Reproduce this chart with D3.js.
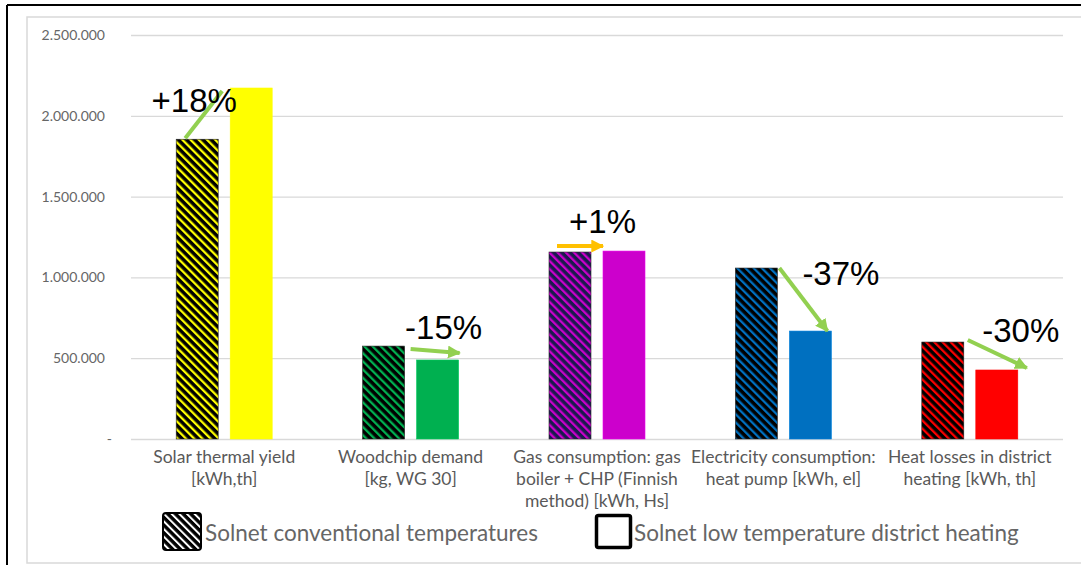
<!DOCTYPE html>
<html>
<head>
<meta charset="utf-8">
<script src="https://cdn.jsdelivr.net/npm/d3@7"></script>
<style>
  html, body { margin: 0; padding: 0; background: #fff; }
  svg { display: block; }
</style>
</head>
<body>
<svg id="chart" width="1081" height="565"></svg>
<script>
// ---------------- data ----------------
const categories = [
  "Solar thermal yield\n[kWh,th]",
  "Woodchip demand\n[kg, WG 30]",
  "Gas consumption: gas\nboiler + CHP (Finnish\nmethod) [kWh, Hs]",
  "Electricity consumption:\nheat pump [kWh, el]",
  "Heat losses in district\nheating [kWh, th]"
];
const seriesNames = ["Solnet conventional temperatures", "Solnet low temperature district heating"];
const conventional = [1855000, 575000, 1157000, 1058000, 600000];
const lowTemp      = [2172000, 489000, 1163000, 668000, 427000];
const changeLabels = ["+18%", "-15%", "+1%", "-37%", "-30%"];
const yTicks = [0, 500000, 1000000, 1500000, 2000000, 2500000];

// ---------------- styles ----------------
const barColors   = ["#FFFF00", "#00B050", "#CC00CC", "#0070C0", "#FF0000"];
const hatchBg     = ["#000000", "#000000", "#1a1a4e", "#000000", "#000000"];
const arrowColors = ["#92D050", "#92D050", "#FFC000", "#92D050", "#92D050"];

const svg = d3.select("#chart");
const plot = { left: 131, right: 1063, top: 35, bottom: 439 };

// frame
svg.append("rect").attr("x", 27).attr("y", 17).attr("width", 1070).attr("height", 546)
  .attr("fill", "none").attr("stroke", "#d9d9d9").attr("stroke-width", 1.5);
svg.append("line").attr("x1", 7).attr("x2", 1081).attr("y1", 5).attr("y2", 5)
  .attr("stroke", "#000").attr("stroke-width", 2);
svg.append("line").attr("x1", 7).attr("x2", 7).attr("y1", 5).attr("y2", 565)
  .attr("stroke", "#000").attr("stroke-width", 2);

// scales
const y = d3.scaleLinear().domain([0, 2500000]).range([plot.bottom, plot.top]);
const x0 = d3.scaleBand().domain(d3.range(categories.length)).range([plot.left, plot.right]).padding(0);
const groupW = 96;
const x1 = d3.scaleBand().domain([0, 1]).range([0, groupW]).paddingInner(12 / 54).paddingOuter(0);
const groupLeft = i => x0(i) + x0.bandwidth() / 2 - groupW / 2;
const bw = x1.bandwidth();

// patterns
const defs = svg.append("defs");
barColors.forEach((c, i) => {
  const p = defs.append("pattern").attr("id", "hatch" + i)
    .attr("patternUnits", "userSpaceOnUse").attr("width", 5.8).attr("height", 5.8)
    .attr("patternTransform", "rotate(-45)");
  p.append("rect").attr("width", 5.8).attr("height", 5.8).attr("fill", hatchBg[i]);
  p.append("rect").attr("width", 2.3).attr("height", 5.8).attr("fill", c);
});
const lp = defs.append("pattern").attr("id", "hatchLegend")
  .attr("patternUnits", "userSpaceOnUse").attr("width", 5.4).attr("height", 5.4)
  .attr("patternTransform", "rotate(-45)");
lp.append("rect").attr("width", 5.4).attr("height", 5.4).attr("fill", "#000");
lp.append("rect").attr("width", 2).attr("height", 5.4).attr("fill", "#fff");

arrowColors.forEach((c, i) => {
  defs.append("marker").attr("id", "head" + i)
    .attr("viewBox", "0 0 10 10").attr("refX", 9).attr("refY", 5)
    .attr("markerUnits", "userSpaceOnUse").attr("markerWidth", 13).attr("markerHeight", 13)
    .attr("orient", "auto")
    .append("path").attr("d", "M0,0 L10,5 L0,10 Z").attr("fill", c);
});

// y axis + gridlines
const yAxis = d3.axisLeft(y).tickValues(yTicks)
  .tickSize(-(plot.right - plot.left)).tickPadding(26)
  .tickFormat(d => d === 0 ? "-" : d3.format(",")(d).replace(/,/g, "."));
const gy = svg.append("g").attr("transform", `translate(${plot.left},0)`).call(yAxis);
gy.select(".domain").remove();
gy.selectAll(".tick line").attr("stroke", "#d9d9d9").attr("stroke-width", 1.3);
gy.selectAll(".tick text").attr("fill", "#666").style("font-family", "Lato, 'Open Sans', sans-serif")
  .style("font-size", "14px");
gy.selectAll(".tick text").filter(d => d === 0).attr("dx", 7);

// bars
const g = svg.append("g");
categories.forEach((cat, i) => {
  const gl = groupLeft(i);
  g.append("rect").attr("x", gl + x1(0)).attr("y", y(conventional[i]))
    .attr("width", bw).attr("height", y(0) - y(conventional[i]))
    .attr("fill", `url(#hatch${i})`).attr("stroke", "#222").attr("stroke-width", 0.6);
  g.append("rect").attr("x", gl + x1(1)).attr("y", y(lowTemp[i]))
    .attr("width", bw).attr("height", y(0) - y(lowTemp[i]))
    .attr("fill", barColors[i]).attr("stroke", d3.color(barColors[i]).brighter(0.4)).attr("stroke-width", 0.6);
});

// category labels
const labG = svg.append("g").style("font-family", "Lato, 'Open Sans', sans-serif")
  .style("font-size", "17.5px").attr("fill", "#595959");
categories.forEach((cat, i) => {
  const t = labG.append("text").attr("text-anchor", "middle")
    .attr("x", x0(i) + x0.bandwidth() / 2).attr("y", 463);
  cat.split("\n").forEach((line, k) => {
    t.append("tspan").attr("x", x0(i) + x0.bandwidth() / 2).attr("dy", k === 0 ? 0 : 22).text(line);
  });
});

// change annotations (arrow geometry relative to bars)
const annot = [
  { from: [9, -1, "A"],  to: [-8, 3, "B"],  head: false, tx: -30, ty: 24, tyRef: "B", fromX: "left", toX: "left" },
  { from: [6, 3, "A"],   to: [1, -7, "B"],  head: true,  tx: 33,  ty: -7, tyRef: "A", fromX: "right", toX: "right" },
  { from: [8, -6, "A"],  to: [0, -6, "A"],  head: true,  tx: 5.5, ty: -18, tyRef: "B", fromX: "left", toX: "left" },
  { from: [2, 0, "A"],   to: [-4, 0, "B"],  head: true,  tx: 57.5, ty: 17, tyRef: "A", fromX: "right", toX: "right" },
  { from: [4, -2, "A"],  to: [9, -2, "B"],  head: true,  tx: 51,  ty: 0, tyRef: "A", fromX: "right", toX: "right" }
];
const annG = svg.append("g");
categories.forEach((cat, i) => {
  const a = annot[i];
  const gl = groupLeft(i);
  const xa = gl + x1(0), xb = gl + x1(1);
  const yA = y(conventional[i]), yB = y(lowTemp[i]);
  const fx = (a.fromX === "left" ? xa : xa + bw) + a.from[0];
  const fy = (a.from[2] === "A" ? yA : yB) + a.from[1];
  const tx = (a.toX === "left" ? xb : xb + bw) + a.to[0];
  const ty = (a.to[2] === "A" ? yA : yB) + a.to[1];
  const ln = annG.append("line").attr("x1", fx).attr("y1", fy).attr("x2", tx).attr("y2", ty)
    .attr("stroke", arrowColors[i]).attr("stroke-width", 4);
  if (a.head) ln.attr("marker-end", `url(#head${i})`);
});
categories.forEach((cat, i) => {
  const a = annot[i];
  const cx = x0(i) + x0.bandwidth() / 2 + a.tx;
  const yRef = a.tyRef === "A" ? y(conventional[i]) : y(lowTemp[i]);
  annG.append("text").attr("x", cx).attr("y", yRef + a.ty).attr("text-anchor", "middle")
    .style("font-family", "'Liberation Sans', Arial, sans-serif").style("font-size", "33px")
    .attr("fill", "#000").text(changeLabels[i]);
});

// legend
const legG = svg.append("g").style("font-family", "Lato, 'Open Sans', sans-serif")
  .style("font-size", "22.5px").attr("fill", "#666");
legG.append("rect").attr("x", 163).attr("y", 513).attr("width", 38).attr("height", 37).attr("rx", 3)
  .attr("fill", "url(#hatchLegend)").attr("stroke", "#000").attr("stroke-width", 2);
legG.append("text").attr("x", 205).attr("y", 541).text(seriesNames[0]);
legG.append("rect").attr("x", 596.5).attr("y", 515.5).attr("width", 34).attr("height", 32).attr("rx", 2)
  .attr("fill", "#fff").attr("stroke", "#000").attr("stroke-width", 3.5);
legG.append("text").attr("x", 634).attr("y", 541).text(seriesNames[1]);
</script>
</body>
</html>
